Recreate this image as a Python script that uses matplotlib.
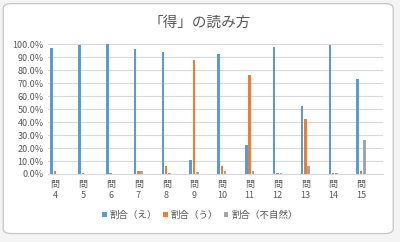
import matplotlib
matplotlib.use("Agg")
import matplotlib.pyplot as plt
from matplotlib.patches import FancyBboxPatch
import numpy as np

plt.rcParams["font.family"] = ["Noto Sans CJK JP", "DejaVu Sans"]

# data
questions = ["4", "5", "6", "7", "8", "9", "10", "11", "12", "13", "14", "15"]
ratio_e = [97, 99, 100, 96, 93.5, 11, 92, 22, 98, 52, 99, 73]
ratio_u = [2, 0.5, 0.5, 2, 6, 88, 6.5, 76, 1, 42, 1, 2]
ratio_unnatural = [0, 0, 0, 2, 1, 1.5, 2, 2, 1, 6, 1, 26]
series_names = ["割合（え）", "割合（う）", "割合（不自然）"]
colors = ["#5B9BD5", "#ED7D31", "#A5A5A5"]
text_color = "#595959"

fig = plt.figure(figsize=(4.0, 2.42), dpi=100, facecolor="#f4f4f4")

# white chart area with a rounded border (behind the axes)
frame = FancyBboxPatch((0.008, 0.035), 0.975, 0.95,
                       boxstyle="round,pad=0,rounding_size=0.02",
                       transform=fig.transFigure, facecolor="white",
                       edgecolor="#c6c6c6", linewidth=0.9, zorder=-1)
fig.patches.append(frame)

ax = fig.add_axes([0.12, 0.281, 0.838, 0.537])
ax.set_facecolor("none")

x = np.arange(len(questions))
w = 0.09
for off, vals, name, c in zip([-0.12, 0.0, 0.12],
                              [ratio_e, ratio_u, ratio_unnatural],
                              series_names, colors):
    ax.bar(x + off, np.array(vals) / 100, width=w, color=c, label=name, zorder=3)

ax.set_xlim(-0.25, 11.8)
ax.set_ylim(0, 1.0)
ax.set_yticks(np.arange(0, 1.01, 0.1))
ax.set_yticklabels([f"{v * 100:.1f}%" for v in np.arange(0, 1.01, 0.1)])
ax.set_xticks(x)
ax.set_xticklabels(["問\n" + q for q in questions], linespacing=1.35)
ax.tick_params(axis="both", length=0, colors=text_color, labelsize=6.5, pad=3)
ax.tick_params(axis="x", pad=4)
ax.grid(axis="y", color="#d9d9d9", linewidth=0.8, zorder=0)
for s in ["top", "right", "left"]:
    ax.spines[s].set_visible(False)
ax.spines["bottom"].set_color("#d9d9d9")
ax.spines["bottom"].set_linewidth(0.8)

fig.text(0.5, 0.905, "「得」の読み方", ha="center", va="center",
         fontsize=10.5, color=text_color)

handles, labels = ax.get_legend_handles_labels()
fig.legend(handles, labels, loc="center", bbox_to_anchor=(0.5, 0.11),
           ncol=3, frameon=False, fontsize=6.8, labelcolor=text_color,
           handlelength=0.5, handleheight=0.5, handletextpad=0.3,
           columnspacing=0.6)

fig.savefig("out.png", dpi=100, facecolor=fig.get_facecolor())
